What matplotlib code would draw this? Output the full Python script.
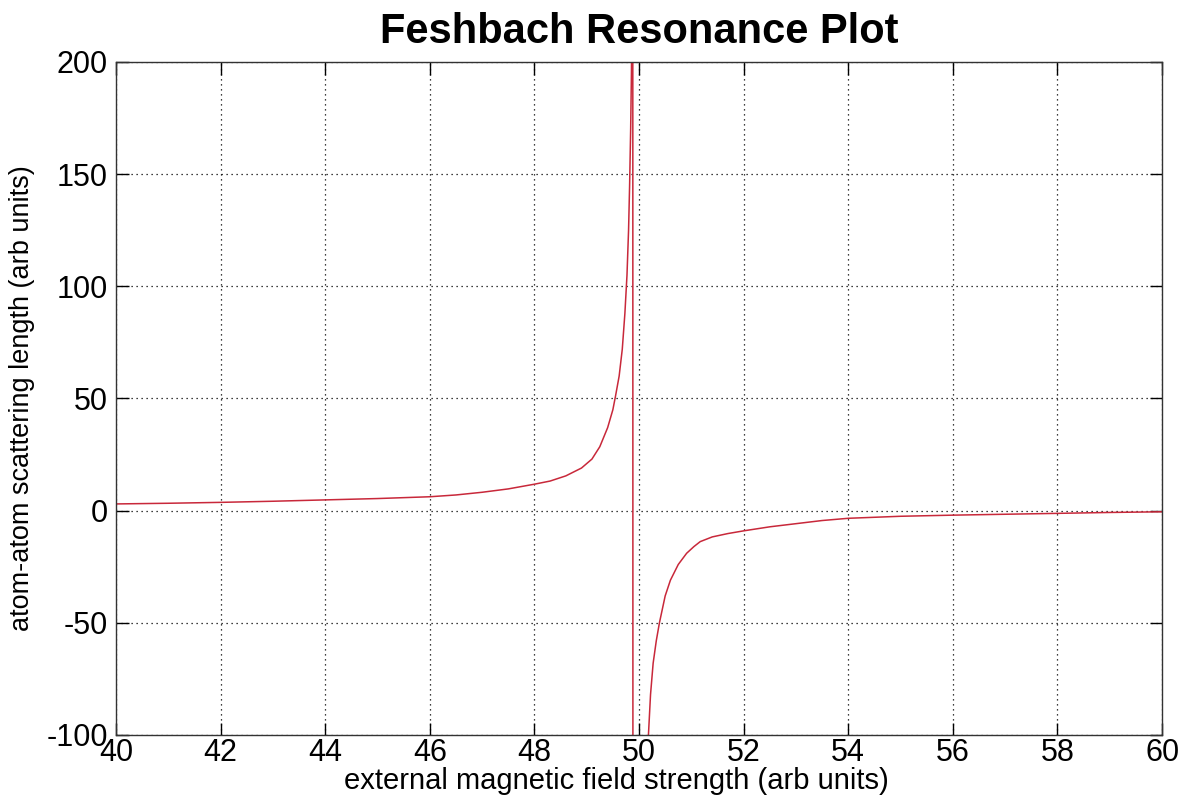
import numpy as np
import matplotlib
matplotlib.use("Agg")
import matplotlib.pyplot as plt

# Field strength (arb units) and scattering length, below the resonance
field_low = [40.0, 41.0, 42.0, 43.0, 44.0, 45.0, 46.0, 46.5, 47.0, 47.5,
             48.0, 48.3, 48.6, 48.9, 49.1, 49.25, 49.4, 49.5, 49.55, 49.62,
             49.68, 49.73, 49.77, 49.80, 49.82, 49.84, 49.855, 49.87, 49.88]
length_low = [3.0, 3.3, 3.7, 4.2, 4.8, 5.4, 6.2, 7.0, 8.2, 9.7,
              11.8, 13.2, 15.5, 19.0, 23.0, 28.5, 37.0, 45.0, 51.0, 60.0,
              72.0, 88.0, 105.0, 125.0, 145.0, 170.0, 195.0, 240.0, 400.0]

# jump across the pole and the branch above the resonance
field_high = [49.885, 50.16, 50.18, 50.22, 50.27, 50.33, 50.39, 50.5, 50.6,
              50.75, 50.91, 51.05, 51.17, 51.4, 51.7, 52.0, 52.5, 53.0,
              53.5, 54.0, 55.0, 56.0, 57.0, 58.0, 59.0, 60.0]
length_high = [-400.0, -115.0, -100.0, -82.0, -68.0, -58.0, -50.0, -38.0, -31.0,
               -24.0, -19.0, -16.0, -13.8, -11.7, -10.2, -9.0, -7.2, -5.8,
               -4.4, -3.4, -2.5, -2.0, -1.6, -1.2, -0.8, -0.5]

xticks = np.arange(40, 61, 2)
yticks = np.arange(-100, 201, 50)

plt.rcParams['font.family'] = ['Liberation Sans', 'DejaVu Sans']
plt.rcParams['axes.unicode_minus'] = False

fig = plt.figure(figsize=(11.87, 8.01), dpi=100)
ax = fig.add_axes([0.0977, 0.0824, 0.8813, 0.8402])

B = field_low + field_high
a = length_low + length_high
ax.plot(B, a, color='#c8283a', lw=1.1)

ax.set_xlim(40, 60)
ax.set_ylim(-100, 200)
ax.set_xticks(xticks)
ax.set_yticks(yticks)
ax.tick_params(direction='in', length=9, width=1, labelsize=22,
               top=True, right=True)
ax.tick_params(axis='x', pad=2)
ax.tick_params(axis='y', pad=6)
ax.grid(True, linestyle=(0, (1, 3)), color='black', lw=0.9)
for s in ax.spines.values():
    s.set_linewidth(1.0)
    s.set_color('#333333')

ax.set_title('Feshbach Resonance Plot', fontsize=30, fontweight='bold', pad=14)
ax.set_xlabel('external magnetic field strength (arb units)', fontsize=21)
ax.set_ylabel('atom-atom scattering length (arb units)', fontsize=19.5)
ax.xaxis.set_label_coords(0.478, -0.048)
ax.yaxis.set_label_coords(-0.077, 0.5)

fig.savefig('out.png', dpi=100)
